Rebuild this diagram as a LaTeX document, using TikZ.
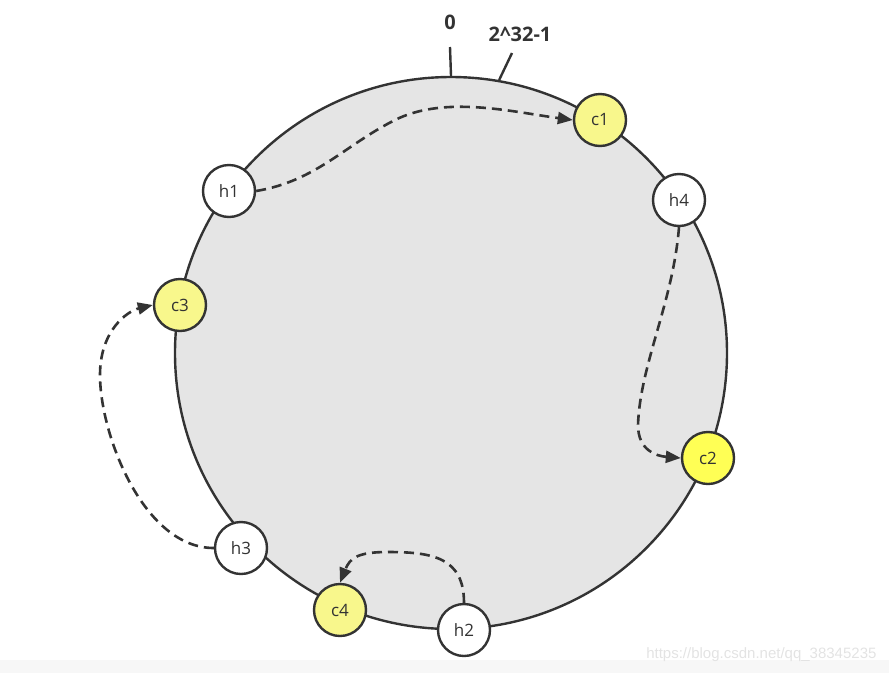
\documentclass[tikz,border=0pt]{standalone}
\usepackage{fontspec}
\setmainfont{Open Sans}
\newfontfamily\markfont{Liberation Sans}
\usetikzlibrary{positioning, arrows.meta}

\definecolor{cachepale}{HTML}{F8F78C}
\definecolor{cachebright}{HTML}{FFFF55}
\definecolor{inkgray}{HTML}{333333}

\begin{document}
\begin{tikzpicture}[
        x=1pt, y=-1pt,
        ring/.style={circle, draw=inkgray, line width=2.4pt, fill=black!10, minimum size=552pt, inner sep=0pt},
        server/.style={circle, draw=inkgray, line width=2.4pt, fill=white, minimum size=52pt, inner sep=0pt, font=\fontsize{17}{17}\selectfont, text=inkgray},
        cache/.style={server, fill=cachepale},
        link/.style={-{Triangle[length=15pt, width=12pt]}, line width=2.6pt, dash pattern=on 10pt off 6pt, draw=inkgray},
        tick/.style={line width=2.4pt, draw=inkgray},
        label/.style={font=\bfseries\fontsize{20}{20}\selectfont, text=inkgray}
    ]
        \useasboundingbox (0,0) rectangle (889,673);
        \fill[black!3] (0,660) rectangle (889,673);

        % Hash ring
        \node[ring] (ring) at (451,353) {};

        % Ticks at the top of the ring
        \coordinate (zerotick) at (450,47);
        \coordinate (maxtick) at (512,53);
        \draw[tick] (ring.90) -- (zerotick);
        \draw[tick] (ring.80) -- (maxtick);
        \node[label] (zerolabel) at (450,22) {0};
        \node[label] (maxlabel) at (520,34) {2\textasciicircum 32-1};

        % Hosts on the ring
        \foreach \name/\x/\y in {h1/229/191, h4/679/200, h3/241/548, h2/464/630} {
            \node[server] (\name) at (\x,\y) {\name};
        }

        % Cache keys on the ring
        \foreach \name/\x/\y in {c1/600/120, c3/180/305, c4/340/610} {
            \node[cache] (\name) at (\x,\y) {\name};
        }
        \node[cache, fill=cachebright] (c2) at (708,458) {c2};

        % Clockwise lookups
        \draw[link] (h1.east) .. controls +(60,-10) and +(-50,25) .. (395,120)
            .. controls +(50,-25) and +(-60,-8) .. (c1.west);
        \draw[link] (h4.south) .. controls +(-6,75) and +(2,-60) .. (638,425)
            .. controls +(0,25) and +(-25,-2) .. (c2.west);
        \draw[link] (h3.west) .. controls +(-70,0) and +(0,60) .. (100,375)
            .. controls +(0,-45) and +(-25,6) .. (c3.west);
        \draw[link] (h2.north) .. controls +(0,-45) and +(45,0) .. (388,552)
            .. controls +(-30,0) and +(10,-25) .. (c4.north);

        % Watermark
        \node[font=\markfont\fontsize{15}{15}\selectfont, text=black!11, anchor=east] (mark) at (880,655) {https://blog.csdn.net/qq\_38345235};
    \end{tikzpicture}
\end{document}
